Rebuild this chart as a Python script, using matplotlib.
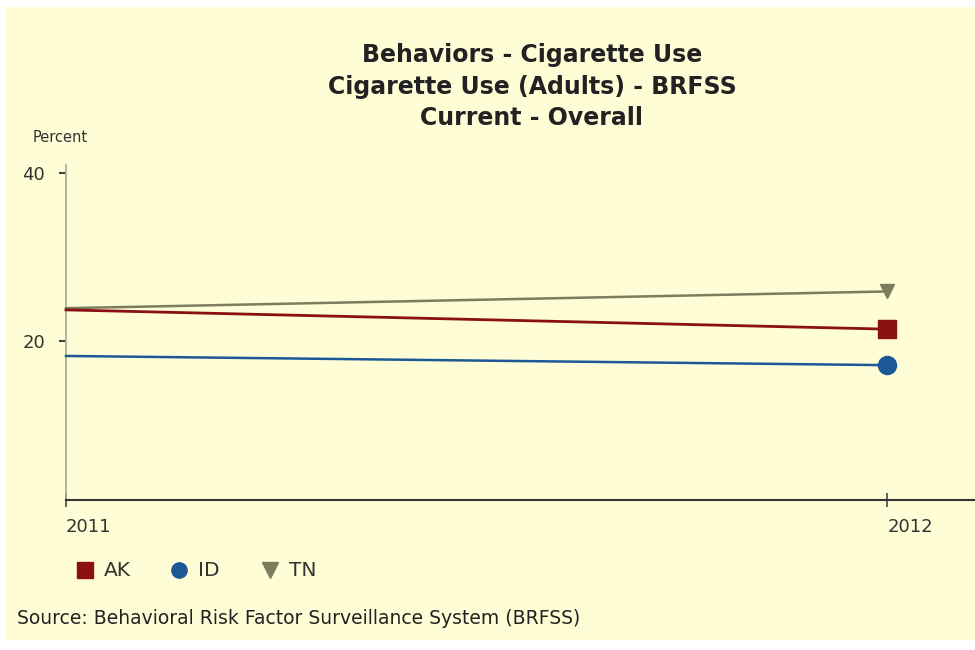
import matplotlib.pyplot as plt
from matplotlib.patches import Rectangle

years = [2011, 2012]
states = ["AK", "ID", "TN"]
ak = [23.7, 21.4]
id_vals = [18.2, 17.1]
tn = [23.9, 25.9]

colors = {"AK": "#8b1010", "ID": "#1c5896", "TN": "#7d7d5e"}
markers = {"AK": "s", "ID": "o", "TN": "v"}
bg = "#fefdd6"

fig = plt.figure(figsize=(9.75, 6.5), dpi=100, facecolor="white")
fig.patches.append(Rectangle((5 / 975, 10 / 650), 970 / 975, 633 / 650,
                             transform=fig.transFigure, facecolor=bg,
                             edgecolor="none", zorder=-10))

ax = fig.add_axes([66 / 975, 150 / 650, 909 / 975, 335 / 650])
ax.set_facecolor("none")
ax.set_zorder(2)

series = {"AK": ak, "ID": id_vals, "TN": tn}
sizes = {"AK": 13, "ID": 13, "TN": 10}
widths = {"AK": 2.0, "ID": 1.8, "TN": 1.8}
for s in ["TN", "AK", "ID"]:
    ax.plot(years, series[s], color=colors[s], lw=widths[s], marker=markers[s],
            markevery=[1], markersize=sizes[s], clip_on=False, zorder=3)

ax.set_xlim(2011, 2012.107)
ax.set_ylim(1, 41)
ax.set_xticks(years)
ax.set_xticklabels([str(y) for y in years])
ax.set_yticks([20, 40])

for side in ["top", "right"]:
    ax.spines[side].set_visible(False)
ax.spines["left"].set_color("#a8a890")
ax.spines["left"].set_linewidth(1.2)
ax.spines["bottom"].set_color("#333333")
ax.spines["bottom"].set_linewidth(1.5)

ax.tick_params(axis="y", direction="out", length=5, width=1.5, color="#444444",
               labelsize=13, labelcolor="#333333", pad=10)
ax.tick_params(axis="x", direction="inout", length=10, width=1.2, color="#444444",
               labelsize=13, labelcolor="#333333", pad=8)
for lbl in ax.get_xticklabels():
    lbl.set_horizontalalignment("left")

title_lines = ["Behaviors - Cigarette Use", "Cigarette Use (Adults) - BRFSS",
               "Current - Overall"]
for line, y in zip(title_lines, [55, 87, 118]):
    fig.text(532 / 975, 1 - y / 650, line, ha="center", va="center",
             fontsize=17, fontweight="bold", color="#222222")
fig.text(33 / 975, 1 - 137 / 650, "Percent", ha="left", va="center",
         fontsize=10.5, color="#333333")

# legend row drawn as markers + labels in figure space
leg_x = [85, 179, 270]
for s, x in zip(states, leg_x):
    fig.lines.append(plt.Line2D([x / 975], [1 - 570 / 650], marker=markers[s],
                                color=colors[s], markersize=11, linestyle="none",
                                transform=fig.transFigure))
    fig.text((x + 19) / 975, 1 - 570 / 650, s, ha="left", va="center",
             fontsize=14.5, color="#333333")

fig.text(17 / 975, 1 - 618 / 650,
         "Source: Behavioral Risk Factor Surveillance System (BRFSS)",
         ha="left", va="center", fontsize=13.5, color="#222222")

fig.savefig("out.png", dpi=100, facecolor="white")
